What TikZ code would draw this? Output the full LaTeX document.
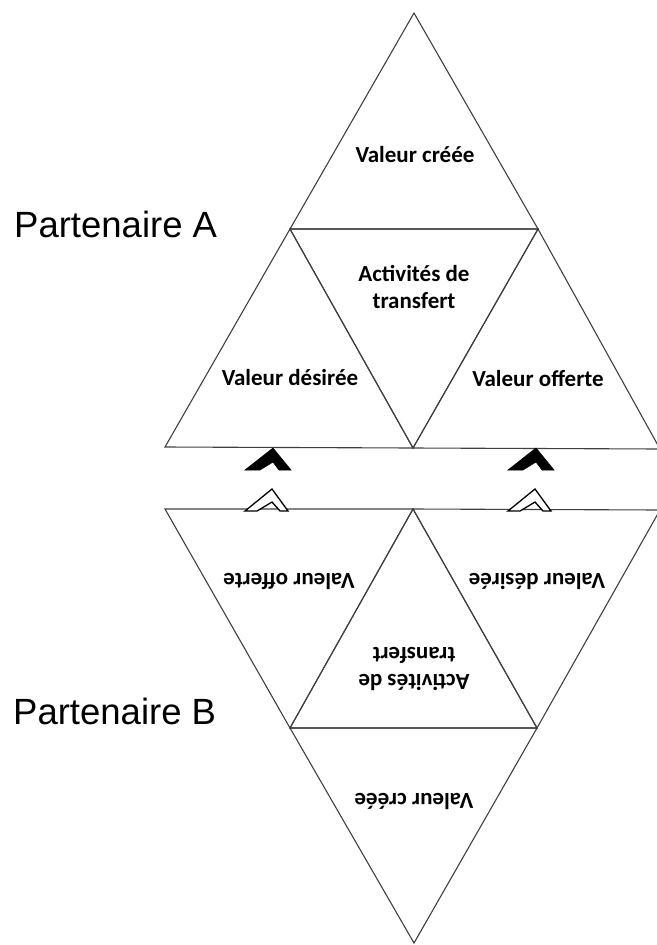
\documentclass[tikz,border=0pt]{standalone}
\usepackage{fontspec}
\setmainfont{Carlito}
\newfontfamily\partfont{Liberation Sans}
\begin{document}
\begin{tikzpicture}[x=1pt,y=-1pt,
  tri/.style={draw=black!75,line width=1.1pt,line join=miter},
  lbl/.style={font=\bfseries\fontsize{23}{27}\selectfont,align=center,inner sep=0pt},
  plbl/.style={font=\partfont\fontsize{36.5}{40}\selectfont,inner sep=0pt,anchor=west},
  chevfill/.style={fill=black,draw=black,line width=0.6pt,line join=miter},
  chevout/.style={fill=white,draw=black,line width=1.3pt,line join=miter}]
\useasboundingbox (0,0) rectangle (656,945);
% upper group coordinates
\coordinate (A0) at (414,13);
\coordinate (A1) at (290,229);
\coordinate (A2) at (538,229);
\coordinate (A3) at (165,447);
\coordinate (A4) at (413,448);
\coordinate (A5) at (660,449);
% lower group coordinates
\coordinate (B3) at (165,509);
\coordinate (B4) at (413,509);
\coordinate (B5) at (660,510);
\coordinate (B1) at (290,728);
\coordinate (B2) at (537,728);
\coordinate (B0) at (414,943);
% upper triangles
\draw[tri] (A1) -- (A0) -- (A2) -- cycle;
\draw[tri] (A3) -- (A1) -- (A4) -- cycle;
\draw[tri] (A4) -- (A2) -- (A5) -- cycle;
\draw[tri] (A1) -- (A2) -- (A4) -- cycle;
% lower triangles
\draw[tri] (B3) -- (B4) -- (B1) -- cycle;
\draw[tri] (B4) -- (B5) -- (B2) -- cycle;
\draw[tri] (B4) -- (B2) -- (B1) -- cycle;
\draw[tri] (B1) -- (B2) -- (B0) -- cycle;
% labels upper
\node[lbl] (vc) at (415,155) {Valeur créée};
\node[lbl] (at) at (414,287) {Activités de\\transfert};
\node[lbl] (vd) at (290,378) {Valeur désirée};
\node[lbl] (vo) at (538,378) {Valeur offerte};
% labels lower (upside down)
\node[lbl,rotate=180] (vo2) at (289,581) {Valeur offerte};
\node[lbl,rotate=180] (vd2) at (537,581) {Valeur désirée};
\node[lbl,rotate=180] (at2) at (414,669) {Activités de\\transfert};
\node[lbl,rotate=180] (vc2) at (414,801) {Valeur créée};
% partner labels
\node[plbl] (pa) at (14,224) {Partenaire A};
\node[plbl] (pb) at (13,711) {Partenaire B};
% chevrons
\foreach \dx in {0,263}{
  \draw[chevfill,xshift=\dx] (245,470) -- (273,448) -- (291,470) -- (279,470) -- (273,462) -- (260,470) -- cycle;
  \draw[chevout,xshift=\dx] (245,511) -- (272,489) -- (288,511) -- (280,511) -- (272,502) -- (257,511) -- cycle;
}
\end{tikzpicture}
\end{document}
